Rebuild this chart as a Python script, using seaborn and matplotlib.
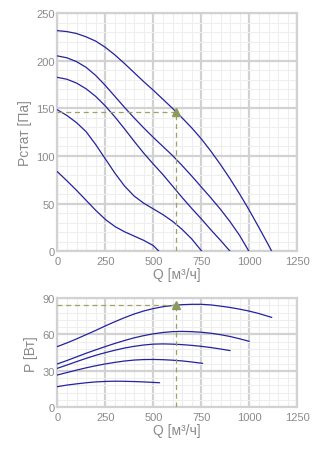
import numpy as np
import pandas as pd
import matplotlib
matplotlib.use("Agg")
import matplotlib.pyplot as plt
from matplotlib.ticker import MultipleLocator
import seaborn as sns

# Static pressure curves, Q [m3/h] -> P [Pa], one list pair per speed step
q_p1 = [0, 50, 100, 150, 200, 250, 300, 350, 400, 450, 500, 550, 600, 620,
        650, 700, 750, 800, 850, 900, 950, 1000, 1050, 1100, 1117]
p_p1 = [231.5, 230.5, 228.5, 225, 220.5, 214, 206, 197, 187.5, 178, 169,
        159.5, 150, 146, 140, 129.5, 118, 105, 91, 76, 60, 43, 25, 6.5, 0]
q_p2 = [0, 50, 100, 150, 200, 250, 300, 350, 400, 450, 500, 550, 600, 650,
        700, 750, 800, 850, 900, 950, 998]
p_p2 = [205, 203, 199, 193, 184.5, 174, 162.5, 151, 140, 129.5, 119.5, 110,
        100.5, 90, 79, 67.5, 56, 44, 31, 16.5, 0]
q_p3 = [0, 50, 100, 150, 200, 250, 300, 350, 400, 450, 500, 550, 600, 650,
        700, 750, 800, 850, 900]
p_p3 = [182.5, 180.5, 176.5, 170.5, 162.5, 152.5, 141, 128.5, 115.5, 103,
        91.5, 80.5, 68.5, 56.5, 45, 34, 22.5, 11.5, 0]
q_p4 = [0, 50, 100, 150, 200, 250, 300, 350, 400, 450, 500, 550, 600, 650,
        700, 753]
p_p4 = [148.5, 142.5, 135, 125.5, 112, 97, 82, 68.5, 58, 50.5, 44.5, 38.5,
        31.5, 23, 13, 0]
q_p5 = [0, 50, 100, 150, 200, 250, 300, 350, 400, 450, 500, 530]
p_p5 = [83.6, 74, 64, 53.5, 43, 33.5, 26, 20.5, 16, 11.5, 6, 0]

# Power curves, Q [m3/h] -> P [W]
q_w1 = [0, 50, 100, 150, 200, 250, 300, 350, 400, 450, 500, 550, 600, 650,
        700, 750, 800, 850, 900, 950, 1000, 1050, 1117]
w_w1 = [50, 53, 56.3, 59.8, 63.3, 67, 70.5, 73.8, 76.8, 79.3, 81.3, 82.8,
        83.8, 84.5, 84.8, 84.8, 84.3, 83.3, 82.2, 80.8, 79.2, 77.2, 74]
q_w2 = [0, 50, 100, 150, 200, 250, 300, 350, 400, 450, 500, 550, 600, 650,
        700, 750, 800, 850, 900, 950, 1000]
w_w2 = [35.7, 38.5, 41.5, 44.5, 47.3, 50, 52.6, 55, 57.2, 59, 60.5, 61.6,
        62.3, 62.5, 62.3, 61.8, 61, 59.8, 58.3, 56.4, 54.3]
q_w3 = [0, 50, 100, 150, 200, 250, 300, 350, 400, 450, 500, 550, 600, 650,
        700, 750, 800, 850, 900]
w_w3 = [32.1, 34.8, 37.6, 40.3, 42.8, 45, 47, 48.8, 50.2, 51.3, 52, 52.2, 52,
        51.6, 51, 50.2, 49.2, 48, 46.7]
q_w4 = [0, 50, 100, 150, 200, 250, 300, 350, 400, 450, 500, 550, 600, 650,
        700, 757]
w_w4 = [26.6, 28.6, 30.6, 32.5, 34.2, 35.7, 37, 38.1, 38.9, 39.3, 39.4, 39.2,
        38.8, 38.2, 37.3, 36.2]
q_w5 = [0, 50, 100, 150, 200, 250, 300, 350, 400, 450, 500, 533]
w_w5 = [17, 18.3, 19.3, 20.2, 20.9, 21.3, 21.5, 21.4, 21.2, 20.9, 20.5, 20.2]

# Operating point
op_q = 620
op_p = 146
op_w = 84.2

x_ticks = [0, 250, 500, 750, 1000, 1250]
p_ticks = [0, 50, 100, 150, 200, 250]
w_ticks = [0, 30, 60, 90]


def long_frame(pairs, yname):
    frames = []
    for i, (q, y) in enumerate(pairs):
        frames.append(pd.DataFrame({"Q": q, yname: y, "curve": i}))
    return pd.concat(frames, ignore_index=True)


pressure = long_frame([(q_p1, p_p1), (q_p2, p_p2), (q_p3, p_p3),
                       (q_p4, p_p4), (q_p5, p_p5)], "P")
power = long_frame([(q_w1, w_w1), (q_w2, w_w2), (q_w3, w_w3),
                    (q_w4, w_w4), (q_w5, w_w5)], "W")

sns.set_theme(style="white")
plt.rcParams["font.family"] = ["Liberation Sans", "DejaVu Sans"]

LINE = "#23239c"
TEXT = "#8a8a8a"
MAJOR = "#d2d2d2"
MINOR = "#eeeeee"
OP = "#9fa267"

fig = plt.figure(figsize=(3.36, 4.52), dpi=100)
ax1 = fig.add_axes([57.3 / 336, 1 - 252.3 / 452, 240 / 336, 238.3 / 452])
ax2 = fig.add_axes([57.3 / 336, 1 - 408.3 / 452, 240 / 336, 109.3 / 452])


def style(ax, yticks, yminor, ylabel):
    ax.set_xlim(0, 1250)
    ax.set_ylim(yticks[0], yticks[-1])
    ax.set_xticks(x_ticks)
    ax.set_yticks(yticks)
    ax.xaxis.set_minor_locator(MultipleLocator(50))
    ax.yaxis.set_minor_locator(MultipleLocator(yminor))
    ax.grid(which="minor", color=MINOR, lw=0.8, zorder=0)
    ax.grid(which="major", color=MAJOR, lw=1.6, zorder=0)
    ax.set_axisbelow(True)
    for s in ax.spines.values():
        s.set_color(MAJOR)
        s.set_linewidth(1.6)
    ax.tick_params(which="both", length=0, labelsize=8, labelcolor=TEXT)
    ax.tick_params(axis="x", pad=3.5)
    ax.tick_params(axis="y", pad=2)
    ax.set_xlabel("Q [м³/ч]", fontsize=10, color=TEXT, labelpad=0.5)
    ax.set_ylabel(ylabel, fontsize=10, color=TEXT, labelpad=3)


sns.lineplot(data=pressure, x="Q", y="P", units="curve", estimator=None,
             sort=False, color=LINE, lw=0.9, ax=ax1, zorder=3)
sns.lineplot(data=power, x="Q", y="W", units="curve", estimator=None,
             sort=False, color=LINE, lw=0.9, ax=ax2, zorder=3)

style(ax1, p_ticks, 10, "Pстат [Па]")
style(ax2, w_ticks, 6, "P [Вт]")

for ax, yv in ((ax1, op_p), (ax2, op_w)):
    ax.plot([0, op_q], [yv, yv], color=OP, lw=0.9, ls=(0, (4, 3)), zorder=4)
    ax.plot([op_q, op_q], [0, yv], color=OP, lw=0.9, ls=(0, (4, 3)), zorder=4)
    ax.plot([op_q], [yv], marker="^", color="#8e9a5c", ms=5.5, zorder=5,
            clip_on=False)

fig.savefig("out.png", dpi=100)
